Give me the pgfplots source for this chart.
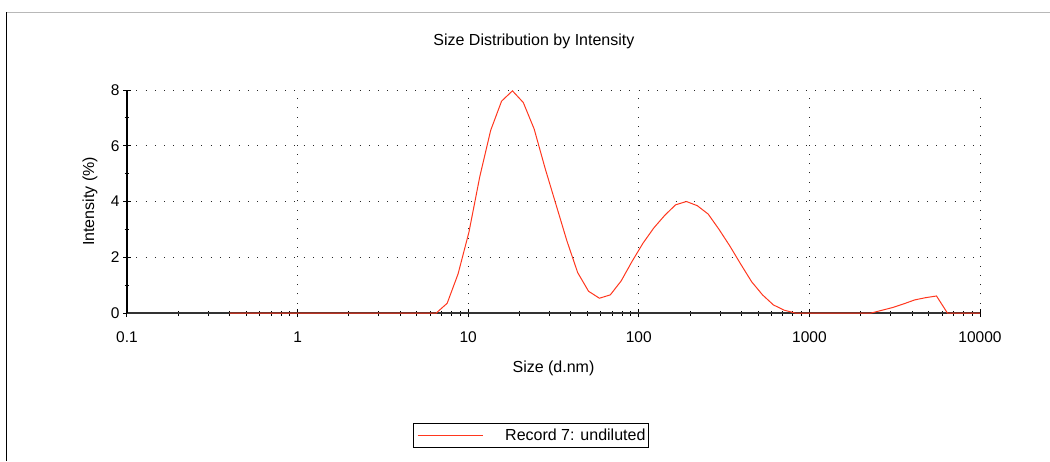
\documentclass[border=0pt]{standalone}
\usepackage{fontspec}
\setmainfont{Liberation Sans}
\usepackage{pgfplots}
\pgfplotsset{compat=1.18}
\definecolor{curvered}{RGB}{255,55,30}
\begin{document}
\begin{tikzpicture}[x=1pt,y=1pt]
\useasboundingbox (0,0) rectangle (1050,461);
\draw[black!28, line width=1pt] (6.5,448) -- (1050,448);
\draw[black, line width=1.3pt] (6.5,0) -- (6.5,448.5);
\begin{axis}[
  at={(127pt,148pt)}, anchor=south west,
  scale only axis, width=853pt, height=223pt,
  xmode=log, xmin=0.1, xmax=10000, ymin=0, ymax=8,
  clip=false,
  axis x line*=bottom, axis y line*=left,
  x axis line style={black!80, line width=1.2pt},
  y axis line style={black, line width=1.2pt},
  xtick={0.1,1,10,100,1000,10000},
  xticklabels={0.1,1,10,100,1000,10000},
  minor xtick={0.2,0.3,0.4,0.5,0.6,0.7,0.8,0.9,2,3,4,5,6,7,8,9,20,30,40,50,60,70,80,90,200,300,400,500,600,700,800,900,2000,3000,4000,5000,6000,7000,8000,9000},
  ytick={0,2,4,6,8}, minor ytick={1,3,5,7},
  tick align=center,
  major tick length=8pt, minor tick length=5pt,
  tick style={black, line width=1pt},
  xmajorgrids, ymajorgrids,
  major grid style={black!85, line width=1pt, dash pattern=on 1pt off 8.3pt},
  /pgf/number format/assume math mode=true,
  tick label style={font=\fontsize{15.5}{18}\selectfont},
  xticklabel style={yshift=-11pt},
  label style={font=\fontsize{16}{19}\selectfont},
  title style={font=\fontsize{16}{19}\selectfont, at={(axis description cs:0.477,1.19)}, anchor=center},
  title={Size Distribution by Intensity},
  xlabel={Size (d.nm)},
  ylabel={Intensity (\%)},
  xlabel style={at={(axis description cs:0.5,-0.25)}, anchor=center},
  ylabel style={at={(axis description cs:-0.0434,0.5)}, anchor=center},
  legend image code/.code={\draw[#1] (0pt,0pt) -- (65pt,0pt);},
  legend style={at={(axis description cs:0.474,-0.55)}, anchor=center,
    draw=black, line width=1pt, inner xsep=3.5pt, inner ysep=5.5pt,
    font=\fontsize{16}{19}\selectfont, column sep=22pt,
    nodes={inner sep=0pt}},
]
\addplot[curvered, line width=1pt] table {
x y
0.4 0
0.4632 0
0.5365 0
0.6213 0
0.7195 0
0.8332 0
0.9649 0
1.117 0
1.294 0
1.499 0
1.736 0
2.01 0
2.328 0
2.696 0
3.122 0
3.615 0
4.187 0
4.849 0
5.615 0
6.503 0
7.531 0.35
8.721 1.4
10.1 2.9
11.7 4.9
13.54 6.55
15.69 7.6
18.17 7.97
21.04 7.55
24.36 6.6
28.21 5.2
32.67 3.9
37.84 2.6
43.82 1.45
50.75 0.78
58.77 0.53
68.06 0.65
78.82 1.15
91.28 1.85
105.7 2.5
122.4 3.05
141.8 3.5
164.2 3.88
190.1 4.0
220.2 3.85
255.0 3.55
295.3 3.0
342.0 2.4
396.1 1.75
458.7 1.12
531.2 0.65
615.1 0.29
712.4 0.1
825.0 0
955.4 0
1106 0
1281 0
1484 0
1718 0
1990 0
2305 0
2669 0.1
3091 0.2
3580 0.33
4145 0.47
4801 0.55
5560 0.61
6439 0
7456 0
8635 0
10000 0
};
\addlegendentry{Record 7: undiluted}
\end{axis}
\end{tikzpicture}
\end{document}
